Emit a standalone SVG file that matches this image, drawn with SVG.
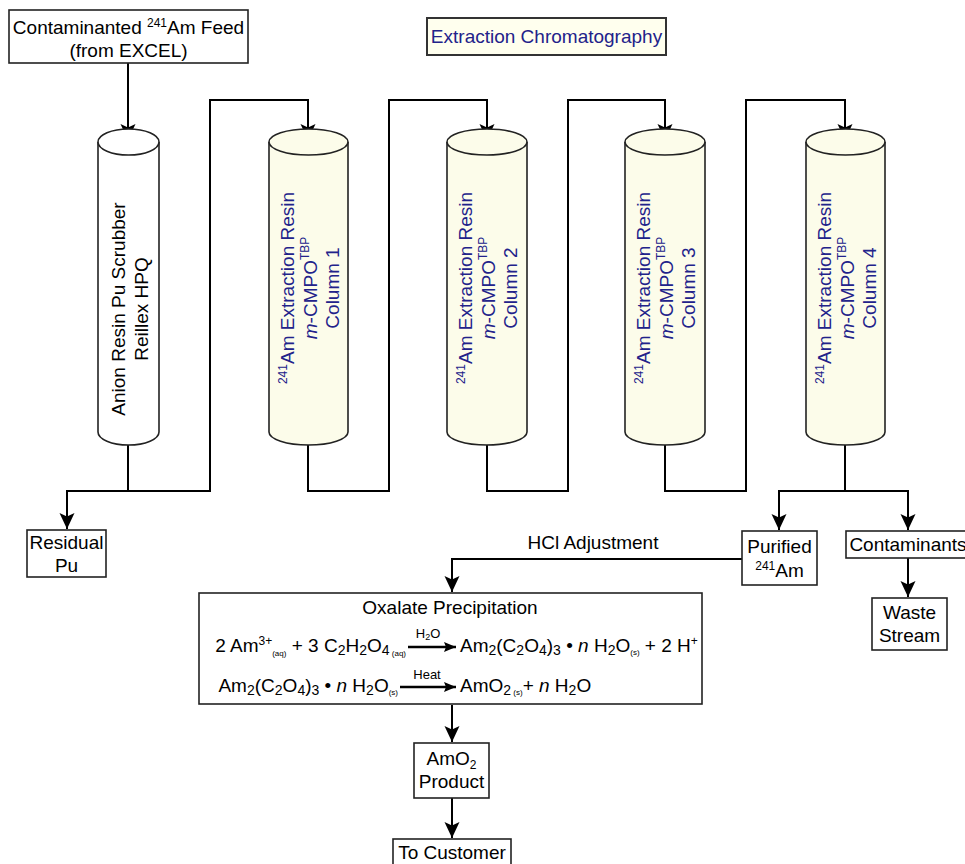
<svg xmlns="http://www.w3.org/2000/svg" width="965" height="864" viewBox="0 0 965 864">
<style>
text{font-family:"Liberation Sans",Arial,sans-serif;font-size:19px;fill:#000}
text.sm{font-size:13px}
.blue{fill:#22228a}
.box{fill:#fff;stroke:#222;stroke-width:1.6}
.col{fill:#fcfcea;stroke:#222;stroke-width:1.6}
.col0{fill:#fff;stroke:#222;stroke-width:1.6}
.con{fill:none;stroke:#000;stroke-width:2}
.eq{fill:none;stroke:#000;stroke-width:2.6}
.c{text-anchor:middle}
</style>
<defs>
<marker id="arr" viewBox="0 0 16 16" refX="16" refY="8" markerWidth="16" markerHeight="16" orient="auto" markerUnits="userSpaceOnUse"><path d="M0,0.5 L16,8 L0,15.5 L3.5,8 z" fill="#000"/></marker>
<marker id="arrs" viewBox="0 0 12 10" refX="12" refY="5" markerWidth="12" markerHeight="10" orient="auto" markerUnits="userSpaceOnUse"><path d="M0,0 L12,5 L0,10 L2,5 z" fill="#000"/></marker>
</defs>

<g id="connectors">
<path class="con" d="M128,63 V140" marker-end="url(#arr)"/>
<path class="con" d="M128,445 V491 H67 V529" marker-end="url(#arr)"/>
<path class="con" d="M128,491 H210 V100 H308 V140" marker-end="url(#arr)"/>
<path class="con" d="M308,445 V491 H389 V100 H487 V140" marker-end="url(#arr)"/>
<path class="con" d="M487,445 V491 H568 V100 H665 V140" marker-end="url(#arr)"/>
<path class="con" d="M665,445 V491 H746 V100 H845 V140" marker-end="url(#arr)"/>
<path class="con" d="M845,445 V491 H779 V530" marker-end="url(#arr)"/>
<path class="con" d="M845,491 H908 V530" marker-end="url(#arr)"/>
<path class="con" d="M908,558 V597" marker-end="url(#arr)"/>
<path class="con" d="M742,559 H452 V592" marker-end="url(#arr)"/>
<path class="con" d="M452,705 V742" marker-end="url(#arr)"/>
<path class="con" d="M452,798 V838" marker-end="url(#arr)"/>
<text x="593" y="549" class="c">HCl Adjustment</text>
</g>

<g id="feed">
<rect class="box" x="9" y="10" width="239" height="53"/>
<text x="128.5" y="34" class="c">Contaminanted <tspan font-size="12" dy="-7">241</tspan><tspan dy="7">Am Feed</tspan></text>
<text x="128.5" y="57" class="c">(from EXCEL)</text>
</g>

<g id="title">
<rect x="427" y="18" width="239" height="37" fill="#ffffee" stroke="#333" stroke-width="2"/>
<text x="546.5" y="43" class="c blue">Extraction Chromatography</text>
</g>

<g id="col0">
<path class="col0" d="M98,142 V432 A30.5,13 0 0 0 159,432 V142"/>
<ellipse class="col0" cx="128.5" cy="142" rx="30.5" ry="13"/>
<text transform="translate(128.5,309) rotate(-90)" class="c"><tspan x="0" y="-4">Anion Resin Pu Scrubber</tspan><tspan x="0" y="19">Reillex HPQ</tspan></text>
</g>

<g id="col1">
<path class="col" d="M269,142 V432 A39.5,13 0 0 0 348,432 V142"/>
<ellipse class="col" cx="308.5" cy="142" rx="39.5" ry="13"/>
<text transform="translate(308.5,288) rotate(-90)" class="c blue"><tspan x="0" y="-22" font-size="12">241</tspan><tspan dy="7">Am Extraction Resin</tspan><tspan x="0" y="8" font-style="italic">m</tspan><tspan>-CMPO</tspan><tspan font-size="12" dy="-8">TBP</tspan><tspan x="0" y="30">Column 1</tspan></text>
</g>

<g id="col2">
<path class="col" d="M447,142 V432 A40,13 0 0 0 527,432 V142"/>
<ellipse class="col" cx="487" cy="142" rx="40" ry="13"/>
<text transform="translate(487,288) rotate(-90)" class="c blue"><tspan x="0" y="-22" font-size="12">241</tspan><tspan dy="7">Am Extraction Resin</tspan><tspan x="0" y="8" font-style="italic">m</tspan><tspan>-CMPO</tspan><tspan font-size="12" dy="-8">TBP</tspan><tspan x="0" y="30">Column 2</tspan></text>
</g>

<g id="col3">
<path class="col" d="M625,142 V432 A40,13 0 0 0 705,432 V142"/>
<ellipse class="col" cx="665" cy="142" rx="40" ry="13"/>
<text transform="translate(665,288) rotate(-90)" class="c blue"><tspan x="0" y="-22" font-size="12">241</tspan><tspan dy="7">Am Extraction Resin</tspan><tspan x="0" y="8" font-style="italic">m</tspan><tspan>-CMPO</tspan><tspan font-size="12" dy="-8">TBP</tspan><tspan x="0" y="30">Column 3</tspan></text>
</g>

<g id="col4">
<path class="col" d="M806,142 V432 A39.5,13 0 0 0 885,432 V142"/>
<ellipse class="col" cx="845.5" cy="142" rx="39.5" ry="13"/>
<text transform="translate(845.5,288) rotate(-90)" class="c blue"><tspan x="0" y="-22" font-size="12">241</tspan><tspan dy="7">Am Extraction Resin</tspan><tspan x="0" y="8" font-style="italic">m</tspan><tspan>-CMPO</tspan><tspan font-size="12" dy="-8">TBP</tspan><tspan x="0" y="30">Column 4</tspan></text>
</g>

<g id="residual">
<rect class="box" x="27" y="530" width="79" height="47"/>
<text x="66.5" y="549" class="c">Residual</text>
<text x="66.5" y="572" class="c">Pu</text>
</g>

<g id="purified">
<rect class="box" x="742" y="531" width="75" height="54"/>
<text x="779.5" y="553" class="c">Purified</text>
<text x="779.5" y="577" class="c"><tspan font-size="12" dy="-7">241</tspan><tspan dy="7">Am</tspan></text>
</g>

<g id="contaminants">
<rect class="box" x="846" y="531" width="125" height="27"/>
<text x="908" y="551" class="c">Contaminants</text>
</g>

<g id="waste">
<rect class="box" x="872" y="598" width="75" height="52"/>
<text x="909.5" y="619" class="c">Waste</text>
<text x="909.5" y="642" class="c">Stream</text>
</g>

<g id="oxalate">
<rect class="box" x="199" y="593" width="503" height="111"/>
<text x="450" y="614" class="c">Oxalate Precipitation</text>
<text x="406" y="652" text-anchor="end">2 Am<tspan font-size="12" dy="-7">3+</tspan><tspan font-size="8" dy="11">(aq)</tspan><tspan dy="-4"> + 3 C</tspan><tspan font-size="14" dy="3">2</tspan><tspan dy="-3">H</tspan><tspan font-size="14" dy="3">2</tspan><tspan dy="-3">O</tspan><tspan font-size="14" dy="3">4</tspan><tspan font-size="8" dy="1"> (aq)</tspan></text>
<path class="eq" d="M408,647 H456" marker-end="url(#arrs)"/>
<text x="428" y="638" class="c sm">H<tspan font-size="9" dy="2">2</tspan><tspan dy="-2">O</tspan></text>
<text x="460" y="652">Am<tspan font-size="14" dy="3">2</tspan><tspan dy="-3">(C</tspan><tspan font-size="14" dy="3">2</tspan><tspan dy="-3">O</tspan><tspan font-size="14" dy="3">4</tspan><tspan dy="-3">)</tspan><tspan font-size="14" dy="3">3</tspan><tspan dy="-3"> • </tspan><tspan font-style="italic">n</tspan><tspan> H</tspan><tspan font-size="14" dy="3">2</tspan><tspan dy="-3">O</tspan><tspan font-size="8" dy="3">(s)</tspan><tspan dy="-3"> + 2 H</tspan><tspan font-size="12" dy="-7">+</tspan></text>
<text x="398" y="692" text-anchor="end">Am<tspan font-size="14" dy="3">2</tspan><tspan dy="-3">(C</tspan><tspan font-size="14" dy="3">2</tspan><tspan dy="-3">O</tspan><tspan font-size="14" dy="3">4</tspan><tspan dy="-3">)</tspan><tspan font-size="14" dy="3">3</tspan><tspan dy="-3"> • </tspan><tspan font-style="italic">n</tspan><tspan> H</tspan><tspan font-size="14" dy="3">2</tspan><tspan dy="-3">O</tspan><tspan font-size="8" dy="3">(s)</tspan></text>
<path class="eq" d="M400,687 H456" marker-end="url(#arrs)"/>
<text x="427" y="679" class="c sm">Heat</text>
<text x="460" y="692">AmO<tspan font-size="14" dy="3">2</tspan><tspan font-size="8"> (s)</tspan><tspan dy="-3">+ </tspan><tspan font-style="italic">n</tspan><tspan> H</tspan><tspan font-size="14" dy="3">2</tspan><tspan dy="-3">O</tspan></text>
</g>

<g id="product">
<rect class="box" x="414" y="743" width="75" height="55"/>
<text x="451.5" y="765" class="c">AmO<tspan font-size="12" dy="4">2</tspan></text>
<text x="451.5" y="788" class="c">Product</text>
</g>

<g id="customer">
<rect class="box" x="393" y="839" width="118" height="32"/>
<text x="452" y="859" class="c">To Customer</text>
</g>
</svg>
